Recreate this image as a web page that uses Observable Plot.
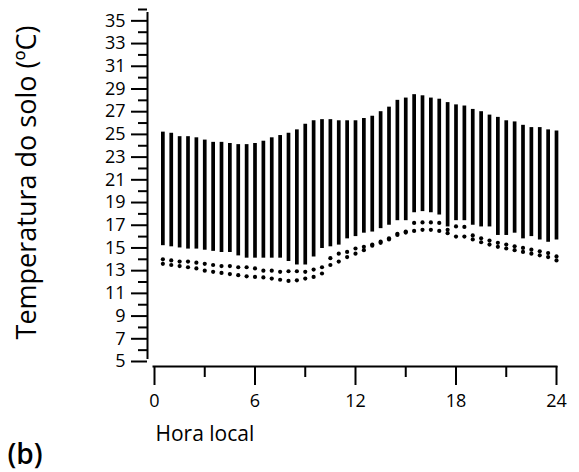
<!DOCTYPE html>
<html><head><meta charset="utf-8">
<script src="https://cdn.jsdelivr.net/npm/d3@7"></script>
<script src="https://cdn.jsdelivr.net/npm/@observablehq/plot@0.6"></script>
<style>body{margin:0;background:#fff}#chart{width:579px;height:472px}</style>
</head><body><div id="chart"></div>
<script>
// Local hour of each measurement column
const hours = [0.5,1,1.5,2,2.5,3,3.5,4,4.5,5,5.5,6,6.5,7,7.5,8,8.5,9,9.5,10,10.5,11,11.5,12,
  12.5,13,13.5,14,14.5,15,15.5,16,16.5,17,17.5,18,18.5,19,19.5,20,20.5,21,21.5,22,22.5,23,23.5,24];
// Upper end of the dense column of points (°C)
const topTemp = [25.2,25.1,24.8,24.8,24.7,24.5,24.3,24.3,24.2,24.1,24.1,24.2,24.4,24.7,24.9,25.1,25.4,25.9,26.2,26.3,26.3,26.2,26.2,26.2,
  26.4,26.6,27.0,27.4,28.0,28.2,28.5,28.4,28.2,28.1,27.8,27.6,27.5,27.2,27.0,26.7,26.5,26.2,26.1,25.8,25.6,25.6,25.4,25.3];
// Lower end of the dense column of points (°C)
const bottomTemp = [15.2,15.1,15.0,14.9,14.9,14.8,14.7,14.6,14.6,14.3,14.1,14.1,14.1,14.1,14.1,13.8,13.5,13.5,14.2,14.95,15.1,15.25,15.8,16.0,
  16.3,16.4,16.7,17.0,17.4,17.4,18.1,18.2,18.1,17.9,16.85,17.4,17.4,17.0,16.85,16.85,16.1,16.1,16.3,15.8,16.0,15.7,15.5,15.7];
// Separate lower points: upper row and lowest row (°C)
const lowUpper = [14.0,13.9,13.8,13.8,13.7,13.6,13.5,13.4,13.4,13.3,13.3,13.2,13.0,13.0,12.9,12.95,12.95,12.9,13.1,13.3,14.1,14.5,14.65,14.95,
  15.1,15.3,15.55,15.85,16.25,16.45,17.2,17.25,17.25,17.2,16.6,16.9,16.85,16.1,15.85,15.65,15.45,15.3,15.15,15.0,14.85,14.7,14.55,14.25];
const lowLower = [13.6,13.5,13.4,13.3,13.2,13.0,12.9,12.8,12.7,12.6,12.5,12.45,12.4,12.3,12.2,12.1,12.15,12.3,12.45,12.75,13.5,13.8,14.2,14.5,
  14.8,15.2,15.45,15.75,16.15,16.35,16.5,16.6,16.6,16.5,16.3,16.0,16.0,15.75,15.5,15.3,15.1,14.95,14.8,14.65,14.5,14.35,14.2,13.9];

const yLabeledTicks = [5,7,9,11,13,15,17,19,21,23,25,27,29,31,33,35];
const yMinorTicks = [6,8,10,12,14,16,18,20,22,24,26,28,30,32,34,36];
const xMajorTicks = [0,6,12,18,24];
const xMinorTicks = [3,9,15,21];
const yTitle = "Temperatura do solo (ºC)";
const xTitle = "Hora local";
const panelTag = "(b)";

const columns = hours.map((h, i) => ({h, top: topTemp[i], bottom: bottomTemp[i]}));
const lowDots = hours.flatMap((h, i) => [{h, t: lowUpper[i]}, {h, t: lowLower[i]}]);

const font = "Open Sans";

const chart = Plot.plot({
  width: 579,
  height: 472,
  marginLeft: 154,
  marginRight: 23,
  marginTop: 9,
  marginBottom: 111,
  style: {background: "white", color: "black", overflow: "visible", fontFamily: font},
  x: {domain: [0, 24], axis: null},
  y: {domain: [5, 36], axis: null},
  marks: [
    Plot.ruleX(columns, {x: "h", y1: "bottom", y2: "top", stroke: "black", strokeWidth: 3.7}),
    Plot.dot(lowDots, {x: "h", y: "t", r: 2.1, fill: "black", stroke: "none"}),
    // axis lines (offset from the data frame)
    Plot.ruleX([0], {dx: -7, y1: 5, y2: 36, strokeWidth: 2, insetTop: -2, insetBottom: -3}),
    Plot.ruleY([5], {dy: 5, x1: 0, x2: 24, strokeWidth: 2, insetLeft: -1.5, insetRight: -1.5}),
    Plot.axisY(yLabeledTicks, {anchor: "left", dx: -7, tickSize: 16, tickPadding: 6, strokeWidth: 2,
      fontSize: 18, fontFamily: font, label: null}),
    Plot.axisY(yMinorTicks, {anchor: "left", dx: -7, tickSize: 9, strokeWidth: 2, tickFormat: () => "", label: null}),
    Plot.axisX(xMajorTicks, {anchor: "bottom", dy: 5, tickSize: 19, tickPadding: 9, strokeWidth: 2,
      fontSize: 18, fontFamily: font, label: null}),
    Plot.axisX(xMinorTicks, {anchor: "bottom", dy: 5, tickSize: 11, strokeWidth: 2, tickFormat: () => "", label: null}),
    Plot.text([yTitle], {frameAnchor: "left", rotate: -90, dx: -127, dy: -3, textAnchor: "middle", lineAnchor: "middle",
      fontSize: 27, fontFamily: font, fill: "black"}),
    Plot.text([xTitle], {frameAnchor: "bottom-left", dx: 1, dy: 73, textAnchor: "start", lineAnchor: "middle",
      fontSize: 21, fontFamily: font, fill: "black"}),
    Plot.text([panelTag], {frameAnchor: "bottom-left", dx: -147, dy: 94, textAnchor: "start", lineAnchor: "middle",
      fontSize: 28, fontWeight: 600, fontFamily: font, fill: "black"})
  ]
});
document.getElementById("chart").appendChild(chart);
</script>
</body></html>
